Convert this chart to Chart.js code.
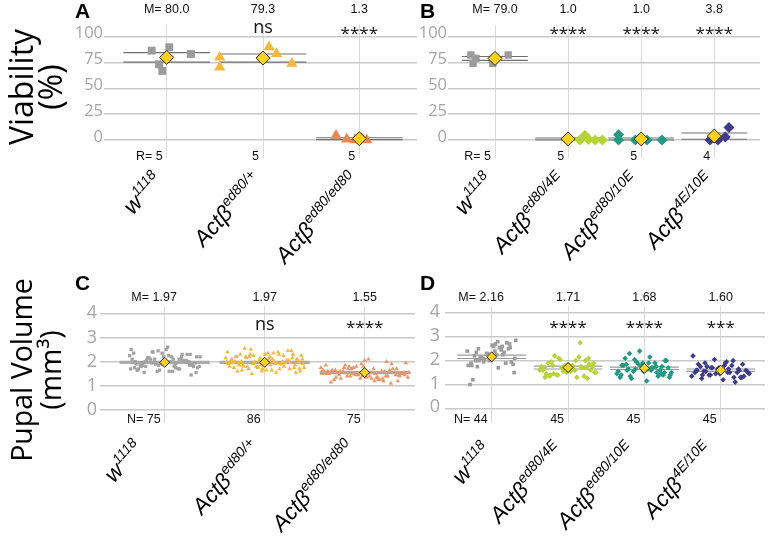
<!DOCTYPE html>
<html><head><meta charset="utf-8">
<script src="https://cdn.jsdelivr.net/npm/chart.js@4/dist/chart.umd.min.js"></script>
<style>
html,body{margin:0;padding:0;background:#fff;}
#wrap{position:relative;width:768px;height:539px;overflow:hidden;}
canvas{position:absolute;left:0;top:0;}
</style></head><body>
<div id="wrap">
<canvas id="cA" width="768" height="539"></canvas>
<canvas id="cB" width="768" height="539"></canvas>
<canvas id="cC" width="768" height="539"></canvas>
<canvas id="cD" width="768" height="539"></canvas>
</div>
<script>
// ================= DATA =================
// Categories: [base text, superscript]
const catsA = [["w","1118"],["Actβ","ed80/+"],["Actβ","ed80/ed80"]];
const catsB = [["w","1118"],["Actβ","ed80/4E"],["Actβ","ed80/10E"],["Actβ","4E/10E"]];
const catsC = [["w","1118"],["Actβ","ed80/+"],["Actβ","ed80/ed80"]];
const catsD = [["w","1118"],["Actβ","ed80/4E"],["Actβ","ed80/10E"],["Actβ","4E/10E"]];

const yTicksViability = [0, 25, 50, 75, 100];
const yTicksVolume = [0, 1, 2, 3, 4];

// Panel A: viability (%) per replicate
const viabA_w1118 = [86.5, 89.8, 83.3, 73.3, 66.9];
const viabA_ed80het = [80.0, 70.5, 90.0, 83.5, 74.0];
const viabA_ed80hom = [4.3, 0.8, 0.0, 1.5, 0.0];
const viabA_means = [80.0, 79.3, 1.3];
const viabA_sem = [4.6, 3.9, 0.9];
const viabA_mLabels = ["M= 80.0", "79.3", "1.3"];
const viabA_sig = ["", "ns", "****"];
const viabA_nLabels = ["R= 5", "5", "5"];

// Panel B: viability (%) per replicate
const viabB_w1118 = [82.3, 79.1, 74.2, 74.2, 82.3];
const viabB_ed80_4E = [0.0, 4.5, 0.5, 0.0, 0.0];
const viabB_ed80_10E = [5.0, 0.0, 0.0, 0.0, 0.0];
const viabB_4E_10E = [0.0, 0.0, 3.0, 12.2];
const viabB_means = [79.0, 1.0, 1.0, 3.8];
const viabB_sem = [1.9, 1.0, 1.0, 3.0];
const viabB_mLabels = ["M= 79.0", "1.0", "1.0", "3.8"];
const viabB_sig = ["", "****", "****", "****"];
const viabB_nLabels = ["R= 5", "5", "5", "4"];

// Panel C: pupal volume (mm3) per pupa
const volC_w1118 = [2.1,1.8,2.3,1.9,2.0,1.7,2.4,2.2,1.6,1.95,2.05,1.85,2.5,1.75,2.15,1.9,2.0,1.65,2.3,2.1,
 1.8,2.2,1.55,2.0,1.9,2.35,1.7,2.1,1.95,2.6,1.85,2.0,1.6,2.25,1.8,2.05,1.45,2.2,1.9,2.1,
 2.4,1.75,2.0,1.85,2.3,1.65,2.1,1.95,2.15,1.8,2.5,1.7,2.05,1.9,2.2,1.6,2.0,1.85,2.35,1.75,
 2.1,1.95,1.55,2.25,1.8,2.0,2.45,1.7,1.9,2.15,1.85,2.05,1.65,2.2,1.95];
const volC_ed80het = [2.0,1.8,2.3,1.7,2.1,1.9,2.5,1.6,2.2,1.85,2.05,1.75,2.4,1.95,2.15,1.55,2.3,2.0,1.8,2.25,
 1.9,2.1,1.65,2.45,1.85,2.0,1.7,2.2,1.95,2.35,1.6,2.05,1.8,2.15,1.9,2.55,1.75,2.1,1.95,2.0,
 1.5,2.25,1.85,2.3,1.7,2.05,1.9,2.4,1.8,2.1,1.65,2.2,1.95,2.0,1.75,2.35,1.85,2.15,1.6,2.05,
 1.9,2.3,1.7,2.1,1.95,2.45,1.8,2.0,1.55,2.2,1.85,2.05,1.75,2.25,1.9,2.1,1.65,2.0,1.95,2.15,
 1.8,2.3,1.7,2.05,1.9,2.2];
const volC_ed80hom = [1.5,1.3,1.7,1.4,1.6,1.2,1.8,1.45,1.55,1.35,1.9,1.5,1.65,1.25,1.75,1.4,1.6,1.15,2.0,1.5,
 1.35,1.7,1.45,1.55,1.3,1.85,1.6,1.4,1.5,2.1,1.25,1.65,1.45,1.75,1.35,1.55,1.2,1.8,1.5,1.6,
 1.4,1.95,1.3,1.55,1.7,1.45,1.6,1.25,1.85,1.5,1.35,1.65,1.4,1.75,1.55,1.2,1.6,1.45,1.9,1.5,
 1.3,1.7,1.55,1.4,1.65,1.1,1.8,1.5,1.35,1.6,1.45,2.05,1.55,1.4,1.7];
const volC_means = [1.97, 1.97, 1.55];
const volC_sem = [0.03, 0.03, 0.03];
const volC_mLabels = ["M= 1.97", "1.97", "1.55"];
const volC_sig = ["", "ns", "****"];
const volC_nLabels = ["N= 75", "86", "75"];

// Panel D: pupal volume (mm3) per pupa
const volD_w1118 = [2.8,2.5,2.7,2.2,1.9,2.6,2.1,1.5,2.4,2.0,2.75,2.3,1.8,2.55,2.15,1.95,2.65,1.2,2.35,2.05,
 2.85,2.25,1.75,2.5,2.0,1.0,2.45,2.1,1.85,2.6,2.2,1.9,2.3,2.4,1.7,2.0,2.55,2.15,1.8,2.25,1.95,2.1,2.7,2.35];
const volD_ed80_4E = [1.6,1.8,2.1,1.5,1.7,2.75,1.4,1.9,1.65,1.35,2.0,1.55,1.75,1.3,2.2,1.6,1.85,1.45,1.7,2.05,
 1.5,1.65,1.95,1.25,1.8,1.6,2.15,1.4,1.75,1.55,1.9,1.35,1.7,1.6,2.0,1.45,1.85,1.65,1.3,1.75,2.1,1.5,1.8,1.4,1.7];
const volD_ed80_10E = [1.6,2.3,1.5,1.9,1.4,1.75,2.05,1.3,1.65,1.85,1.45,2.4,1.55,1.7,1.25,2.0,1.6,1.8,1.35,1.95,
 1.5,2.15,1.65,1.4,1.75,1.3,1.9,1.55,1.7,1.15,2.1,1.6,1.85,1.45,1.7,1.35,2.0,1.55,1.8,1.5,1.65,1.4,1.9,1.6,1.75];
const volD_4E_10E = [1.5,1.9,1.3,1.7,1.6,2.0,1.4,1.55,1.8,1.25,1.65,1.45,2.2,1.5,1.75,1.35,1.6,1.85,1.1,1.7,
 1.45,1.95,1.55,1.3,1.65,1.5,1.8,1.4,1.6,1.2,1.75,1.5,2.05,1.35,1.65,1.55,1.85,1.45,1.6,1.3,1.7,1.5,1.9,1.4,1.6];
const volD_means = [2.16, 1.71, 1.68, 1.60];
const volD_sem = [0.07, 0.06, 0.05, 0.05];
const volD_mLabels = ["M= 2.16", "1.71", "1.68", "1.60"];
const volD_sig = ["", "****", "****", "***"];
const volD_nLabels = ["N= 44", "45", "45", "45"];

// ================= LAYOUT / STYLE =================
const YW = 40;
const GRAY='#9b9b9b', YEL='#f6b73a', ORG='#ea8650', LIME='#b6d433', TEAL='#1f9a84', NAVY='#3e3c8c';
// explicit horizontal offsets (category units) for the few replicate points in A/B
const jitA = [[-0.156,0.027,0.252,-0.08,-0.046],[-0.45,-0.45,0.063,0.14,0.30],[-0.242,-0.131,-0.045,0.025,0.077]];
const jitB = [[-0.33,-0.26,-0.30,-0.03,0.18],[0.16,0.23,0.28,0.37,0.47],[-0.31,-0.31,-0.08,0.08,0.285],[-0.06,0.05,0.15,0.2]];
function spreadJitter(n, w){ // evenly scattered horizontal placement inside the column
  const out=[]; for(let k=0;k<n;k++){ const f=((k+1)*0.6180339887)%1; out.push((f*2-1)*w);} return out;
}

const panels = {
 A: {cv:'cA', letter:'A', letterXY:[75,11], cats:catsA, area:[104,25,417,158], xr:[-0.651,2.599], yr:[-17.42,111.33],
     yTicks:yTicksViability, tickSize:16.5, tickPad:1, labelOffset:-3,
     groups:[{v:viabA_w1118, jit:jitA[0], st:'rect', r:5.6, c:GRAY},{v:viabA_ed80het, jit:jitA[1], st:'triangle', r:6.5, c:YEL},{v:viabA_ed80hom, jit:jitA[2], st:'triangle', r:6.5, c:ORG}],
     means:viabA_means, sem:viabA_sem, half:0.45, lineColor:'#707070', lineWidth:1.1, meanR:7,
     mLabels:viabA_mLabels, sig:viabA_sig, nLabels:viabA_nLabels, mY:8.5, nsY:28, astY:31, nY:155, mNum:false,
     labY:181.5, labDx:[-3,0,1]},
 B: {cv:'cB', letter:'B', letterXY:[420,11], cats:catsB, area:[448,25,760,158], xr:[-0.643,3.625], yr:[-17.42,111.33],
     yTicks:yTicksViability, tickSize:16.5, tickPad:1, labelOffset:-3,
     groups:[{v:viabB_w1118, jit:jitB[0], st:'rect', r:5.2, c:GRAY},{v:viabB_ed80_4E, jit:jitB[1], st:'rectRot', r:5.5, c:LIME},{v:viabB_ed80_10E, jit:jitB[2], st:'rectRot', r:5.5, c:TEAL},{v:viabB_4E_10E, jit:jitB[3], st:'rectRot', r:5.5, c:NAVY}],
     means:viabB_means, sem:viabB_sem, half:0.45, lineColor:'#707070', lineWidth:1.1, meanR:7,
     mLabels:viabB_mLabels, sig:viabB_sig, nLabels:viabB_nLabels, mY:8.5, nsY:28, astY:31, nY:155, mNum:false,
     labY:182, labDx:[0,0,0,2]},
 C: {cv:'cC', letter:'C', letterXY:[75,283], cats:catsC, area:[100,306,415,423], xr:[-0.647,2.503], yr:[-0.538,4.302],
     yTicks:yTicksVolume, tickSize:18, tickPad:3, labelOffset:0,
     groups:[{v:volC_w1118, w:0.36, st:'rect', r:2.3, c:'#a2a2a2'},{v:volC_ed80het, w:0.40, st:'triangle', r:2.6, c:YEL},{v:volC_ed80hom, w:0.45, st:'triangle', r:2.6, c:'#ee9464'}],
     means:volC_means, sem:volC_sem, half:0.45, lineColor:'#a8a8a8', lineWidth:1.8, meanR:5,
     mLabels:volC_mLabels, sig:volC_sig, nLabels:volC_nLabels, mY:296.7, nsY:325, astY:324.5, nY:418.3, mNum:true,
     labY:449.5, labDx:[-20,-3,-8]},
 D: {cv:'cD', letter:'D', letterXY:[420,283], cats:catsD, area:[445,306,765,423], xr:[-0.612,3.58], yr:[-0.617,4.294],
     yTicks:yTicksVolume, tickSize:18, tickPad:5, labelOffset:-1,
     groups:[{v:volD_w1118, w:0.33, st:'rect', r:2.6, c:'#9d9d9d'},{v:volD_ed80_4E, w:0.38, st:'rectRot', r:2.8, c:LIME},{v:volD_ed80_10E, w:0.37, st:'rectRot', r:2.8, c:TEAL},{v:volD_4E_10E, w:0.39, st:'rectRot', r:2.8, c:NAVY}],
     means:volD_means, sem:volD_sem, half:0.45, lineColor:'#9a9a9a', lineWidth:1.1, meanR:5,
     mLabels:volD_mLabels, sig:volD_sig, nLabels:volD_nLabels, mY:296.7, nsY:325, astY:324.7, nY:418.3, mNum:true,
     labY:451.5, labDx:[1,-3,-7,-6]}
};

// ================= DRAW HELPERS =================
function inkText(ctx, s, x, y, align){
  const m = ctx.measureText(s);
  ctx.textAlign = align; ctx.textBaseline = 'alphabetic';
  ctx.fillText(s, x, y + (m.actualBoundingBoxAscent - m.actualBoundingBoxDescent)/2);
}
function catLabel(ctx, ax, ay, base, sup){
  ctx.save();
  ctx.translate(ax, ay);
  ctx.rotate(-48*Math.PI/180);
  ctx.fillStyle = '#000'; ctx.textBaseline='alphabetic'; ctx.textAlign='left';
  ctx.font = 'italic 14px "Liberation Sans", Arial, sans-serif';
  const ws = ctx.measureText(sup).width;
  ctx.fillText(sup, -ws, -9.5);
  ctx.font = 'italic 22.5px "Liberation Sans", Arial, sans-serif';
  const wb = ctx.measureText(base).width;
  ctx.fillText(base, -ws - wb - 0.5, 0);
  ctx.restore();
}

function annotPlugin(P, key){
  return {
    id: 'annot' + key,
    afterDraw(chart){
      const ctx = chart.ctx, xs = chart.scales.x;
      ctx.save();
      ctx.fillStyle = '#111';
      P.cats.forEach((cat, i) => {
        const px = xs.getPixelForValue(i);
        // mean labels
        ctx.font = '12.5px "Liberation Sans", Arial, sans-serif';
        const lab = P.mLabels[i];
        if (P.mNum && lab.startsWith('M= ')) {
          const pw = ctx.measureText('M= ').width, nw = ctx.measureText(lab.slice(3)).width;
          inkText(ctx, lab, px - nw/2 - pw, P.mY, 'left');
        } else inkText(ctx, lab, px, P.mY, 'center');
        // significance
        const s = P.sig[i];
        if (s) {
          if (s === 'ns') { ctx.font = '18px "Open Sans", sans-serif'; inkText(ctx, s, px, P.nsY, 'center'); }
          else { ctx.font = '17px "Open Sans", sans-serif'; inkText(ctx, s, px, P.astY, 'center'); }
        }
        // sample size
        ctx.font = '12.5px "Liberation Sans", Arial, sans-serif';
        inkText(ctx, P.nLabels[i], px - 4, P.nY, 'right');
        // rotated genotype label
        catLabel(ctx, px + P.labDx[i], P.labY, cat[0], cat[1]);
      });
      // panel letter
      ctx.fillStyle = '#000';
      ctx.font = 'bold 21px "Liberation Sans", Arial, sans-serif';
      inkText(ctx, P.letter, P.letterXY[0], P.letterXY[1], 'left');
      // axis titles
      if (key === 'A') drawTitle(ctx, 'Viability', '(%)', 32, 87);
      if (key === 'C') drawTitle(ctx, 'Pupal Volume', '(mm³)', 28.5, 370);
      ctx.restore();
    }
  };
}
function drawTitle(ctx, t1, t2, size, cy){
  ctx.save();
  ctx.fillStyle = '#000';
  ctx.font = size + 'px "Open Sans", sans-serif';
  ctx.translate(0, cy);
  ctx.rotate(-Math.PI/2);
  ctx.textAlign = 'center'; ctx.textBaseline = 'middle';
  ctx.fillText(t1, 0, 24);
  ctx.fillText(t2, 0, 53);
  ctx.restore();
}

function build(key){
  const P = panels[key];
  const datasets = [];
  P.groups.forEach((g, i) => {
    const jit = g.jit || spreadJitter(g.v.length, g.w);
    datasets.push({data: g.v.map((v,k) => ({x: i + jit[k], y: v})), pointStyle: g.st, pointRadius: g.r,
      backgroundColor: g.c, borderColor: g.c, borderWidth: 0, showLine:false, order: 1});
    [1, -1].forEach(sg => {
      const yv = P.means[i] + sg * P.sem[i];
      datasets.push({data: [{x: i - P.half, y: yv}, {x: i + P.half, y: yv}], showLine: true,
        borderColor: P.lineColor, borderWidth: P.lineWidth, pointRadius: 0, order: 2});
    });
  });
  datasets.push({data: P.means.map((m,i) => ({x: i, y: m})), pointStyle: 'rectRot', pointRadius: P.meanR,
    backgroundColor: '#ffd21a', borderColor: '#2b2b2b', borderWidth: 1, showLine:false, order: 0});

  new Chart(document.getElementById(P.cv), {
    type: 'scatter',
    data: {datasets},
    options: {
      responsive: false, animation: false, events: [],
      layout: {autoPadding: false, padding: {left: P.area[0] - YW, top: P.area[1], right: 768 - P.area[2], bottom: 539 - P.area[3]}},
      plugins: {legend: {display: false}, tooltip: {enabled: false}},
      scales: {
        x: {type: 'linear', min: P.xr[0], max: P.xr[1],
            afterBuildTicks: s => { s.ticks = P.cats.map((c,i) => ({value: i})); },
            afterFit: s => { s.height = 0; },
            ticks: {display: false}, grid: {color: '#dadada', lineWidth: 1, drawTicks: false}, border: {display: false}},
        y: {type: 'linear', min: P.yr[0], max: P.yr[1],
            afterBuildTicks: s => { s.ticks = P.yTicks.map(v => ({value: v})); },
            afterFit: s => { s.width = YW; },
            ticks: {font: {family: 'Open Sans', size: P.tickSize}, color: '#a6a6a6', padding: P.tickPad, labelOffset: P.labelOffset},
            grid: {color: '#c9c9c9', lineWidth: 1.5, drawTicks: false}, border: {display: false}}
      }
    },
    plugins: [annotPlugin(P, key)]
  });
}
['A','B','C','D'].forEach(build);
</script>
</body></html>
